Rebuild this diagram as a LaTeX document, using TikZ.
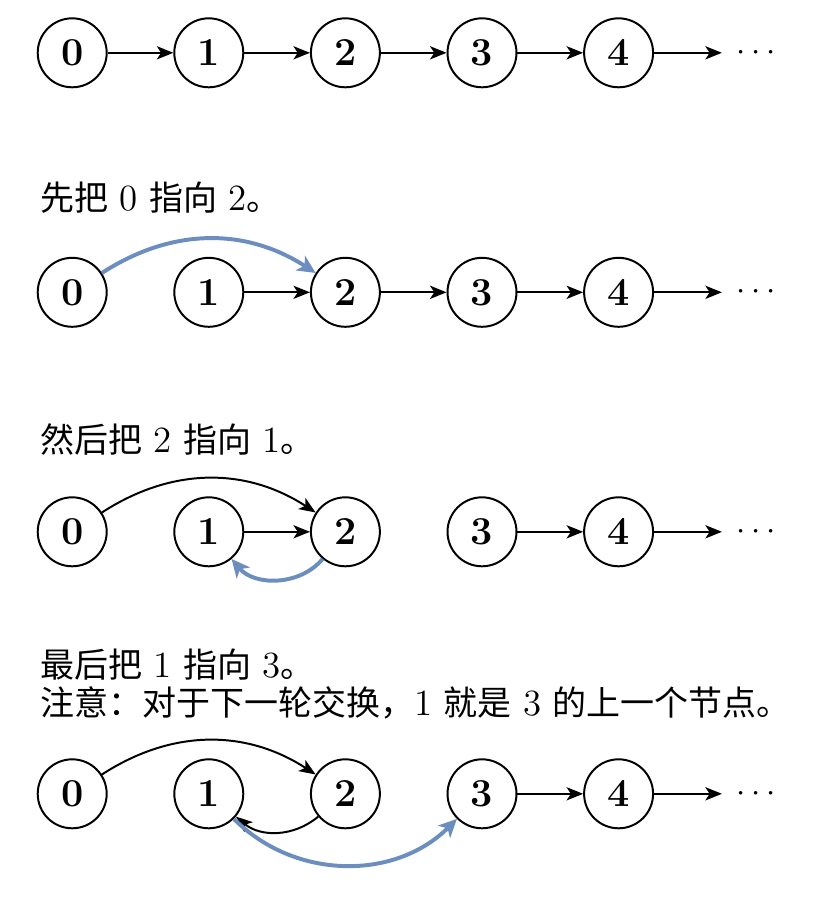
\documentclass[tikz,border=0pt]{standalone}
\usepackage{fontspec}
\newfontfamily\cjk{Noto Sans CJK SC}
\usetikzlibrary{arrows.meta}
\definecolor{linkblue}{HTML}{6C8EBF}
\newcommand\numtxt[1]{{\fontsize{11.2}{12}\selectfont #1}}
\begin{document}
\begin{tikzpicture}[x=0.30303pt,y=0.30303pt,
  nd/.style={circle,draw,line width=0.6pt,minimum size=20.9pt,inner sep=0pt,
    font=\fontsize{12}{14}\selectfont\bfseries},
  dotsnode/.style={inner xsep=4.3pt,inner ysep=0pt,font=\fontsize{10}{12}\selectfont},
  lnk/.style={line width=0.6pt,-{Stealth[length=5pt,width=4pt,inset=1.3pt]}},
  blu/.style={draw=linkblue,line width=1.2pt,-{Stealth[length=5.5pt,width=5.2pt,inset=1.5pt]}},
  lbl/.style={anchor=base west,inner sep=0pt,font=\fontsize{10.3}{12.5}\selectfont}
]
\useasboundingbox (0,0) rectangle (836,-902);

% Row 1
\foreach \i/\x in {0/72.2,1/208.8,2/345.4,3/482,4/618.6}
  \node[nd] (a\i) at (\x,-52.8) {\i};
\node[dotsnode] (ad) at (756,-52.8) {$\cdots$};
\draw[lnk] (a0) -- (a1);
\draw[lnk] (a1) -- (a2);
\draw[lnk] (a2) -- (a3);
\draw[lnk] (a3) -- (a4);
\draw[lnk] (a4) -- (ad);

% Row 2
\node[lbl] (t2) at (40,-210.5) {{\cjk 先把} \numtxt{0} {\cjk 指向} \numtxt{2}{\cjk 。}};
\foreach \i/\x in {0/72.2,1/208.8,2/345.4,3/482,4/618.6}
  \node[nd] (b\i) at (\x,-292.3) {\i};
\node[dotsnode] (bd) at (756,-292.3) {$\cdots$};
\draw[blu] (b0) to[bend left=33] (b2);
\draw[lnk] (b1) -- (b2);
\draw[lnk] (b2) -- (b3);
\draw[lnk] (b3) -- (b4);
\draw[lnk] (b4) -- (bd);

% Row 3
\node[lbl] (t3) at (40,-452.5) {{\cjk 然后把} \numtxt{2} {\cjk 指向} \numtxt{1}{\cjk 。}};
\foreach \i/\x in {0/72.2,1/208.8,2/345.4,3/482,4/618.6}
  \node[nd] (c\i) at (\x,-531.8) {\i};
\node[dotsnode] (cd) at (756,-531.8) {$\cdots$};
\draw[lnk] (c0) to[bend left=33] (c2);
\draw[lnk] (c1) -- (c2);
\draw[blu] (c2) to[bend left=50] (c1);
\draw[lnk] (c3) -- (c4);
\draw[lnk] (c4) -- (cd);

% Row 4
\node[lbl] (t4a) at (40,-677) {{\cjk 最后把} \numtxt{1} {\cjk 指向} \numtxt{3}{\cjk 。}};
\node[lbl] (t4b) at (40,-715.5) {{\cjk 注意：对于下一轮交换，}\numtxt{1} {\cjk 就是} \numtxt{3} {\cjk 的上一个节点。}};
\foreach \i/\x in {0/72.2,1/208.8,2/345.4,3/482,4/618.6}
  \node[nd] (d\i) at (\x,-793.8) {\i};
\node[dotsnode] (dd) at (756,-793.8) {$\cdots$};
\draw[lnk] (d0) to[bend left=33] (d2);
\draw[lnk] (d2) to[bend left=40] (d1);
\draw[blu] (d1) to[bend right=45] (d3);
\draw[lnk] (d3) -- (d4);
\draw[lnk] (d4) -- (dd);
\end{tikzpicture}
\end{document}
